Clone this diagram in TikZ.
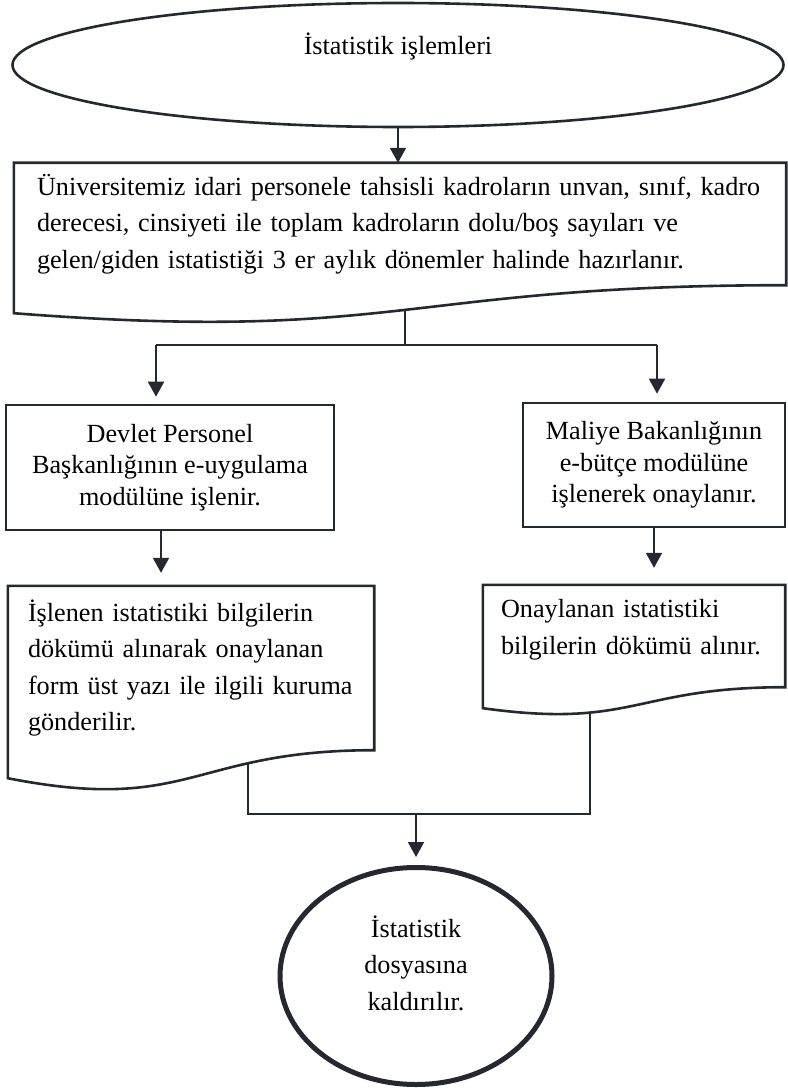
\documentclass[tikz,border=0pt]{standalone}
\usepackage{fontspec}
\setmainfont{Liberation Serif}
\usetikzlibrary{positioning, shapes.geometric, arrows.meta, calc}
\definecolor{ink}{RGB}{36,40,48}
\hyphenpenalty=10000
\exhyphenpenalty=10000

% outline of a document box: node, right drop, left drop, sag
\newcommand{\docshape}[4]{%
	\draw[box] (#1.north west) -- (#1.north east) -- ([yshift=-#2pt]#1.south east)
		.. controls ([yshift=-#2pt]#1.south) and ([yshift=-#4pt]#1.south) .. ([yshift=-#3pt]#1.south west) -- cycle;
}

\begin{document}
\begin{tikzpicture}[x=1pt, y=-1pt,
					font=\fontsize{26.2}{36.5}\selectfont,
					box/.style={draw=ink, line width=2.6pt},
					proc/.style={box, rectangle, align=center, font=\fontsize{26.2}{31.5}\selectfont},
					docnode/.style={rectangle, align=left, inner xsep=20pt},
					line/.style={draw=ink, line width=1.9pt},
					arrow/.style={line, -{Triangle[length=15pt, width=16pt]}}]
	\useasboundingbox (0,0) rectangle (787,1091);

	\node[box, ellipse, minimum width=771pt, minimum height=124pt, text depth=42pt] (start) at (398,65) {İstatistik işlemleri};

	\node[docnode, text width=726pt, inner xsep=23pt, minimum height=122pt] (main) at (400,224)
		{Üniversitemiz idari personele tahsisli kadroların unvan, sınıf, kadro\\
		derecesi, cinsiyeti ile toplam kadroların dolu/boş sayıları ve\\
		gelen/giden istatistiği 3 er aylık dönemler halinde hazırlanır.};
	\docshape{main}{0}{28}{58}

	\node[proc, minimum width=328pt, minimum height=125pt] (dpb) at (170,467.5)
		{Devlet Personel\\ Başkanlığının e-uygulama\\ modülüne işlenir.};
	\node[proc, minimum width=262pt, minimum height=124pt] (mb) at (654,465)
		{Maliye Bakanlığının\\ e-bütçe modülüne\\ işlenerek onaylanır.};

	\node[docnode, text width=326pt, minimum height=164pt] (doc1) at (191,668)
		{İşlenen istatistiki bilgilerin\\ dökümü alınarak onaylanan\\ form üst yazı ile ilgili kuruma\\ gönderilir.};
	\docshape{doc1}{0}{28}{64}
	\node[docnode, text width=266pt, inner xsep=18pt, minimum height=89pt] (doc2) at (634,629.5)
		{Onaylanan istatistiki\\ bilgilerin dökümü alınır.};
	\docshape{doc2}{13}{34}{55}

	\node[box, ellipse, line width=5pt, minimum width=272pt, minimum height=217pt, align=center, text depth=26pt] (end) at (416,976)
		{İstatistik\\ dosyasına\\ kaldırılır.};

	\coordinate (mainout) at (405,311);
	\coordinate (split) at (405,345);
	\coordinate (brL) at (156,345);
	\coordinate (brR) at (657,345);
	\coordinate (d1out) at (248,763);
	\coordinate (d2out) at (590,712);
	\coordinate (merge) at (416,814);

	\draw[arrow] (start) -- (start |- main.north);
	\draw[line] (mainout) -- (split);
	\draw[line] (brL) -- (brR);
	\draw[arrow, shorten >=7pt] (brL) -- (brL |- dpb.north);
	\draw[arrow, shorten >=8pt] (brR) -- (brR |- mb.north);
	\draw[arrow, shorten >=13pt] (161,0 |- dpb.south) -- (161,0 |- doc1.north);
	\draw[arrow, shorten >=17pt] (mb.south) -- (mb.south |- doc2.north);
	\draw[line] (d1out) |- (merge) -| (d2out);
	\draw[arrow, shorten >=8pt] (merge) -- (end);
\end{tikzpicture}
\end{document}
